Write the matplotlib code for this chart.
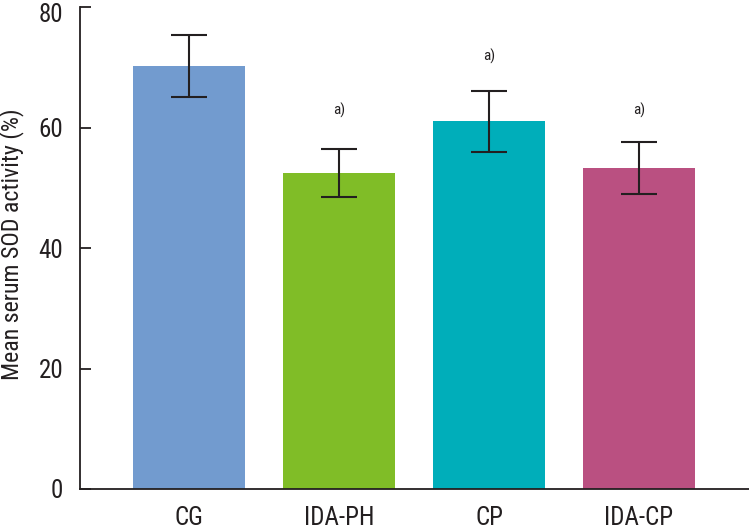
import matplotlib
matplotlib.use("Agg")
import matplotlib.pyplot as plt
from matplotlib import font_manager as fm
from matplotlib.transforms import ScaledTranslation
import numpy as np

categories = ["CG", "IDA-PH", "CP", "IDA-CP"]
means = [70.2, 52.5, 61.0, 53.3]
errors = [5.15, 4.0, 5.0, 4.3]
sig_labels = ["", "a)", "a)", "a)"]
sig_y = [None, 62.9, 71.8, 62.8]
colors = ["#729BCF", "#80BD27", "#00AEBA", "#BA5081"]
yticks = [0, 20, 40, 60, 80]

installed = {f.name for f in fm.fontManager.ttflist}
narrow = [n for n in ["Liberation Sans Narrow", "Roboto Condensed",
                      "DejaVu Sans Condensed", "Open Sans Condensed"] if n in installed]
cond_dejavu = any(f.name == "DejaVu Sans" and "condensed" in str(f.stretch)
                  for f in fm.fontManager.ttflist)
if narrow:
    family = [narrow[0], 'DejaVu Sans']
    stretch = 'normal'
    scale = 1.0
elif cond_dejavu:
    family = ['DejaVu Sans']
    stretch = 'condensed'
    scale = 0.9
else:
    family = ['Roboto', 'DejaVu Sans']
    stretch = 'normal'
    scale = 0.9
plt.rcParams['font.family'] = family
plt.rcParams['font.stretch'] = stretch
ink = "#231F20"

fig = plt.figure(figsize=(7.49, 5.29), dpi=100)
ax = fig.add_axes([80/749, 1 - 489/529, 669/749, 482/529])

x = np.arange(len(categories))
ax.bar(x, means, width=0.75, color=colors, zorder=1)
ax.errorbar(x, means, yerr=errors, fmt='none', ecolor=ink, elinewidth=1.5,
            capsize=13, capthick=1.5, zorder=2)
for xi, lab, yy in zip(x, sig_labels, sig_y):
    if lab:
        ax.text(xi, yy, lab, ha='center', va='center', fontsize=11*scale, color=ink)

ax.set_xlim(-0.727, 3.733)
ax.set_ylim(0, 80)
ax.set_yticks(yticks)
ax.set_xticks(x)
ax.set_xticklabels(categories)
ax.spines['top'].set_visible(False)
ax.spines['right'].set_visible(False)
for s in ['left', 'bottom']:
    ax.spines[s].set_color(ink)
    ax.spines[s].set_linewidth(1.3)
ax.tick_params(axis='y', direction='in', length=8, width=1.3, color=ink,
               labelsize=18*scale, pad=12, labelcolor=ink)
ax.tick_params(axis='x', length=0, labelsize=18*scale, pad=12, labelcolor=ink)
ax.set_ylabel("Mean serum SOD activity (%)", fontsize=17.2*scale, color=ink, va='center')
ax.yaxis.set_label_coords((12 - 80) / 669, 0.507)

# nudge the top tick label down so it stays inside the figure
fig.canvas.draw()
top_lab = ax.get_yticklabels()[-1]
top_lab.set_transform(top_lab.get_transform() + ScaledTranslation(0, -5/100, fig.dpi_scale_trans))

fig.savefig("out.png", dpi=100)
